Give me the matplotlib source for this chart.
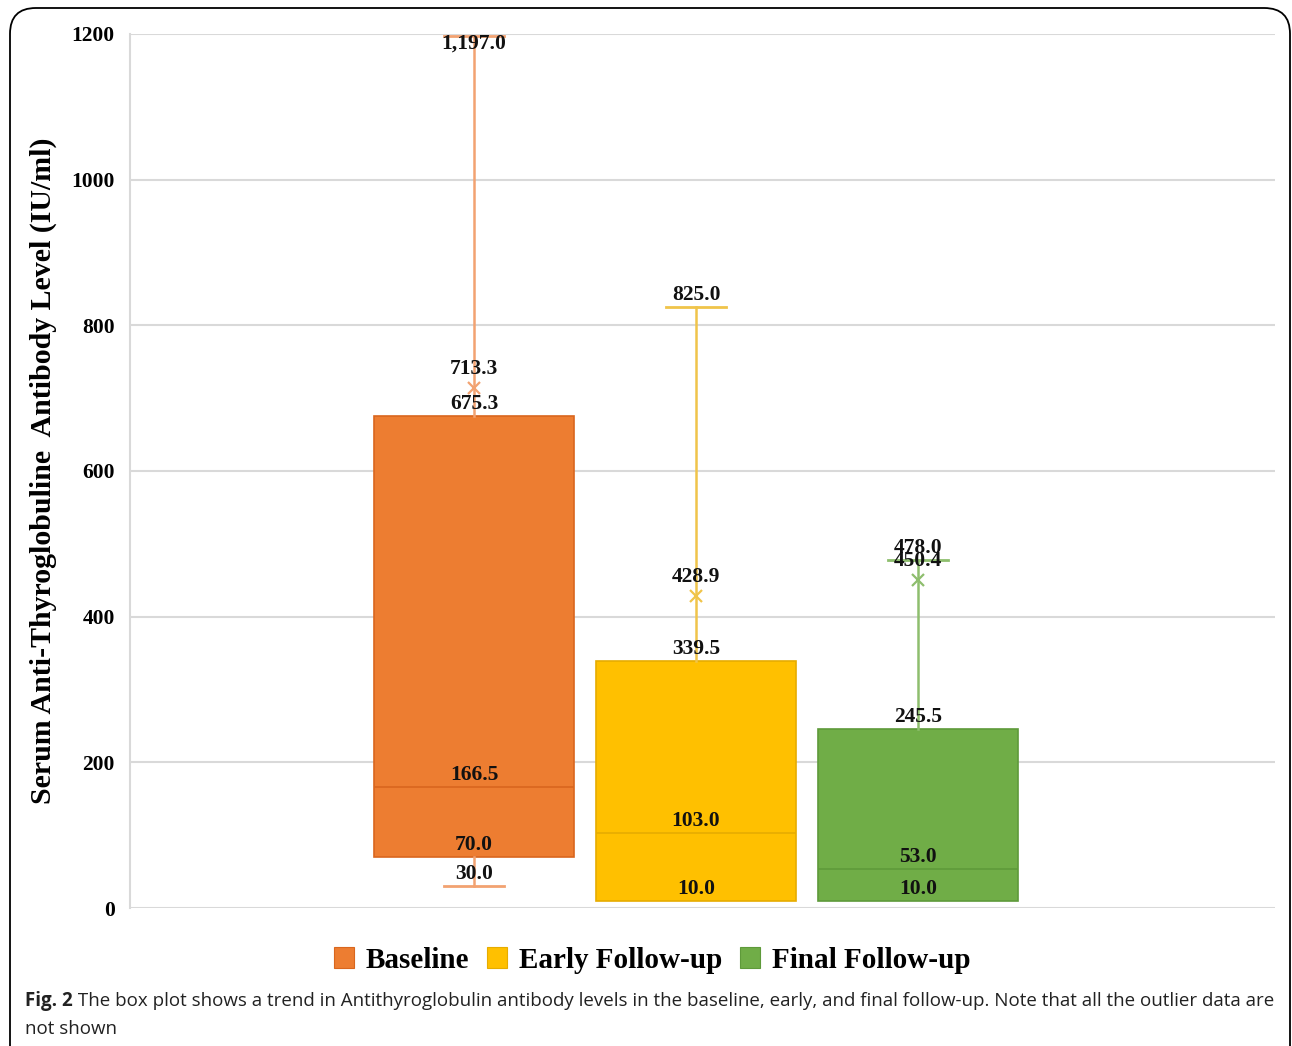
import matplotlib
matplotlib.use("Agg")
import matplotlib.pyplot as plt
from matplotlib.patches import FancyBboxPatch, Patch

# ---- data ----
groups = ["Baseline", "Early Follow-up", "Final Follow-up"]
minimum = [30.0, 10.0, 10.0]
q1 = [70.0, 10.0, 10.0]
median = [166.5, 103.0, 53.0]
q3 = [675.3, 339.5, 245.5]
maximum = [1197.0, 825.0, 478.0]
mean = [713.3, 428.9, 450.4]

yticks = [0, 200, 400, 600, 800, 1000, 1200]
ylabel = "Serum Anti-Thyroglobuline  Antibody Level (IU/ml)"
caption_bold = "Fig. 2"
caption_rest = (" The box plot shows a trend in Antithyroglobulin antibody levels in the "
                "baseline, early, and final follow-up. Note that all the outlier data are")
caption_line2 = "not shown"

fill_colors = ["#ED7D31", "#FFC000", "#70AD47"]
edge_colors = ["#D9661E", "#E6AC00", "#5E9A3A"]
whisker_colors = ["#F2A271", "#F0C44A", "#8EBE6E"]

SERIF = ["Liberation Serif", "DejaVu Serif"]

fig = plt.figure(figsize=(12.92, 10.46), dpi=100)
ax = fig.add_axes([130 / 1292, 138 / 1046, 1145 / 1292, 874 / 1046])

positions = [-1, 0, 1]
for i, pos in enumerate(positions):
    stats = [dict(med=median[i], q1=q1[i], q3=q3[i], whislo=minimum[i],
                  whishi=maximum[i], mean=mean[i], fliers=[])]
    art = ax.bxp(stats, positions=[pos], widths=0.9, capwidths=0.27,
                 patch_artist=True, showmeans=True, showfliers=False,
                 boxprops=dict(facecolor=fill_colors[i], edgecolor=edge_colors[i], linewidth=1.2),
                 medianprops=dict(color=edge_colors[i], linewidth=1.2),
                 whiskerprops=dict(color=whisker_colors[i], linewidth=1.8),
                 capprops=dict(color=whisker_colors[i], linewidth=2.0),
                 meanprops=dict(marker="x", markeredgecolor=whisker_colors[i],
                                markersize=9, markeredgewidth=1.6),
                 zorder=3)
    # a lower whisker that coincides with the box edge stays hidden
    if minimum[i] >= q1[i]:
        art["caps"][0].set_visible(False)
        art["whiskers"][0].set_visible(False)

    # value labels
    values = []
    for v in [maximum[i], q3[i], median[i], q1[i], minimum[i]]:
        if v not in values:
            values.append(v)
    for v in values:
        dy = 12
        if v >= 1150:
            dy = -7
        ax.annotate(f"{v:,.1f}", (pos, v), xytext=(0, dy), textcoords="offset pixels",
                    ha="center", va="center", fontsize=15.5, fontweight="bold",
                    family=SERIF, color="#111111", zorder=5)
    ax.annotate(f"{mean[i]:,.1f}", (pos, mean[i]), xytext=(0, 19), textcoords="offset pixels",
                ha="center", va="center", fontsize=15.5, fontweight="bold",
                family=SERIF, color="#111111", zorder=5)

ax.set_xlim((130 - 696) / 222, (1275 - 696) / 222)
ax.set_ylim(0, 1200)
ax.set_yticks(yticks)
ax.set_yticklabels([str(t) for t in yticks], fontsize=15.5, fontweight="bold", family=SERIF)
ax.set_xticks([])
ax.tick_params(axis="y", length=0, pad=11)
ax.yaxis.grid(True, color="#D9D9D9", linewidth=1.5, zorder=0)
ax.set_axisbelow(True)
for side in ["top", "right", "bottom"]:
    ax.spines[side].set_visible(False)
ax.spines["left"].set_color("#D9D9D9")
ax.spines["left"].set_linewidth(1.5)
ax.set_ylabel(ylabel, fontsize=21.5, fontweight="bold", family=SERIF, labelpad=10)

handles = [Patch(facecolor=c, edgecolor=e, linewidth=0.8) for c, e in zip(fill_colors, edge_colors)]
fig.legend(handles, groups, loc="center", bbox_to_anchor=(652 / 1292, 1 - 960 / 1046),
           ncol=3, frameon=False, prop=dict(family=SERIF, weight="bold", size=21),
           handlelength=0.7, handleheight=0.7, handletextpad=0.4, columnspacing=0.6)

# rounded frame around the figure
frame = FancyBboxPatch((10 / 1292, -0.05), 1280 / 1292, (1046 - 8) / 1046 + 0.05,
                       boxstyle="round,pad=0,rounding_size=0.02",
                       transform=fig.transFigure, fill=False, edgecolor="black",
                       linewidth=1.3, mutation_aspect=1292 / 1046)
fig.patches.append(frame)

# caption
CAP = ["Open Sans", "DejaVu Sans"]
t1 = fig.text(25 / 1292, 1 - 1001 / 1046, caption_bold, fontsize=13.5, fontweight="bold",
              family=CAP, va="center", ha="left", color="#222222")
fig.canvas.draw()
bb = t1.get_window_extent()
fig.text(bb.x1 / 1292, 1 - 1001 / 1046, caption_rest, fontsize=13.5, family=CAP,
         va="center", ha="left", color="#222222")
fig.text(25 / 1292, 1 - 1029 / 1046, caption_line2, fontsize=13.5, family=CAP,
         va="center", ha="left", color="#222222")

fig.savefig("out.png", dpi=100)
